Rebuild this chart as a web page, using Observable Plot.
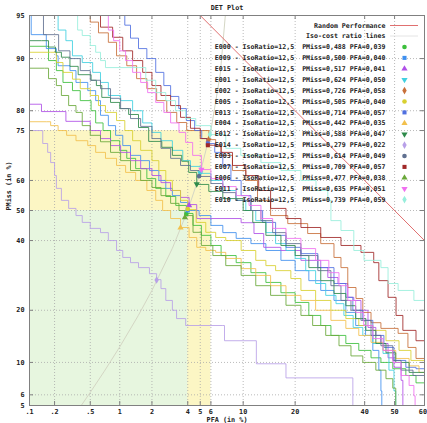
<!DOCTYPE html>
<html><head><meta charset="utf-8">
<script src="https://cdn.jsdelivr.net/npm/d3@7"></script>
<script src="https://cdn.jsdelivr.net/npm/@observablehq/plot@0.6"></script>
<style>body{margin:0;background:#fff}</style>
</head><body><div id="chart"></div>
<script>
// ---------- data (percent) ----------
const systems = ["E000","E009","E015","E001","E002","E005","E013","E004","E012","E014","E003","E007","E006","E011","E010"];
const minPMiss = [0.488,0.500,0.517,0.624,0.726,0.505,0.714,0.442,0.588,0.279,0.614,0.709,0.477,0.635,0.739];
const minPFA   = [0.039,0.040,0.041,0.050,0.058,0.040,0.057,0.035,0.047,0.022,0.049,0.057,0.038,0.051,0.059];
const isoRatioLabel = "12,5";

const pfa_E000 = [0.1,0.16,0.17,0.21,0.25,0.32,0.39,0.51,0.57,0.68,0.81,1.0,1.17,1.42,1.8,2.16,2.64,3.2,3.9,4.4,5.1,6.0,7.1,9.0,11.2,13.8,16.8,20,23.4,26.6,29.5,34.0,38.1,42.1,45.4,49.4,53.8,57.2,60];
const pmiss_E000 = [91.7,91.7,89.7,88.1,86.0,84.4,82.3,80,77.0,75,72.2,69.4,67.0,63.8,60.6,57.4,54.7,51.7,49.0,45.0,41.7,38.4,35.2,33.0,30.0,27.2,24.4,21.9,18.8,16.6,14.6,13.1,11.9,10.7,10.0,9.1,8.2,7.3,6.9];
const pfa_E009 = [0.105,0.105,0.16,0.16,0.21,0.22,0.30,0.35,0.47,0.57,0.64,0.77,0.91,1.07,1.27,1.58,1.9,2.3,2.64,3.0,3.5,4.0,4.9,6.0,7.3,9.0,11.2,13.8,16.8,20,23.4,26.6,30.4,34.0,37.1,40.3,42.7,44.7,45.4,45.7];
const pmiss_E009 = [95,93.1,93.1,91.4,90.4,88.9,88.1,86.0,84.4,82.3,78.9,76.3,73.7,70.8,67.9,66.3,63.2,60,57.4,55.0,52.7,50,48.3,45.0,42.6,40.7,39.0,36.8,33.7,30.6,27.7,25.0,22.4,19.5,16.6,14.6,11.9,8.9,6.4,5];
const pfa_E015 = [0.1,0.14,0.14,0.25,0.27,0.45,0.5,0.64,0.81,1.02,1.27,1.58,2.0,2.4,2.9,3.5,4.1,4.7,9.7,11.7,13.4,16.8,21.4,26.6,28.6,31.6,34.6,36.5,38.8,41.1,43.7,45.4,47.8,49.8,52.2,52.8];
const pmiss_E015 = [81.5,81.5,79.8,79.8,77.4,77.4,75,72.8,70.8,68.8,66.3,63.8,61.6,59.3,56.7,54.4,52.0,47.3,45.9,42.3,37.8,36.8,33.7,31.5,28.6,26.9,23.2,22.4,20,16.2,14.6,13.1,10.7,9.3,7.6,5];
const pfa_E001 = [0.22,0.22,0.27,0.32,0.41,0.53,0.64,0.77,1.02,1.33,1.65,2.0,2.4,3.0,3.65,4.2,5.0,6.0,7.3,9.0,10.4,12.0,13.8,15.7,17.9,20,22.6,25.2,28.0,31.0,33.4,36.3,39.4,42.7,46.1,48.1,49.8,50.4];
const pmiss_E001 = [95,93.6,92.4,90.4,89.4,87.8,86.0,83.4,82.3,80,77.0,74.5,72.2,69.4,66.3,64.5,62.3,60,56.7,53.4,50,46.6,42.6,39.0,36.8,34.3,30.6,26.9,23.7,21.6,18.8,16.2,14.6,13.1,11.4,8.9,6.4,5];
const pfa_E002 = [0.38,0.50,0.61,0.77,0.93,1.17,1.45,1.80,2.2,2.69,3.26,3.92,5.8,6.5,7.1,8.5,10.4,12.3,14.7,18.3,23.1,26.6,30.4,32.5,34.6,37.2,39.4,42.1,45.4,51.2,54.5,57.2,60];
const pmiss_E002 = [95,94.4,93.3,92.2,90.4,88.9,86.7,84.8,82.3,79.6,77.1,75,72.5,70.5,67.9,63.2,60,53.4,48.3,45.6,42.3,39.0,34.6,31.5,25.8,22.9,19.5,17.2,16.0,15.0,12.4,10.6,9.8];
const pfa_E005 = [0.1,0.18,0.21,0.25,0.32,0.39,0.5,0.61,0.72,0.93,1.12,1.33,1.58,2.0,2.3,2.64,3.0,3.5,4.0,4.65,5.5,6.5,7.65,9.7,12.0,13.8,15.7,19.0,21.4,25.2,29.5,34.0,38.1,42.7,47.1,51.5,55.5,60];
const pmiss_E005 = [90.9,90.9,89.4,87.8,86.6,84.8,83.4,81.2,79.6,77.6,75,72.2,69.4,66.3,63.2,60,56.7,53.4,50.3,46.0,42.7,41.0,40,36.8,33.7,32.1,30.6,28.3,25.0,22.4,20,18.1,16.6,15.6,13.6,11.9,10.3,8.4];
const pfa_E013 = [1.0,1.12,1.27,1.51,1.8,2.16,2.54,2.9,3.39,3.9,4.53,5.13,5.68,6.4,7.3,8.3,9.7,11.2,13.2,15.7,17.9,21.4,25.8,30.4,34.0,36.2,39.4,42.7,46.4,49.8,53.8,57.2,60];
const pmiss_E013 = [95,94.1,92.7,91.4,90,87.8,85.4,83.2,80.5,77.6,75,72.8,71.4,68.8,64.8,60,55.0,50,46.0,41.7,37.8,35.8,31.5,26.9,23.2,20,17.7,14.6,12.4,10.3,9.3,9.1,8.6];
const pfa_E004 = [0.1,0.16,0.18,0.22,0.275,0.35,0.47,0.57,0.72,0.93,1.14,1.42,1.8,2.16,2.48,2.9,3.5,4.1,4.7,5.5,6.5,7.65,9.7,12.0,14.7,17.9,21.4,25.2,29.5,34.0,38.1,42.1,46.1,50.4,54.9,58.2,60];
const pmiss_E004 = [77.3,77.3,76.3,75,73.7,72.2,70.8,68.8,67.0,64.8,62.6,60,56.7,53.4,50,47.3,44.3,41.0,37.8,36.8,36.2,34.3,31.2,29.2,26.3,23.7,22.4,20,17.7,16.0,14.6,13.3,11.9,10.6,9.5,8.6,6.2];
const pfa_E012 = [0.1,0.14,0.17,0.205,0.24,0.30,0.37,0.51,0.58,0.66,0.81,1.0,1.22,1.51,1.87,2.44,3.0,3.58,4.07,4.7,5.79,7.3,10.0,11.5,13.8,16.8,20,23.4,26.6,30.4,34.0,37.1,40.4,43.7,47.1,50.4,54.9,60];
const pmiss_E012 = [92.4,92.4,91.6,90.9,90.2,88.8,87.4,86.4,85.4,83.0,81.9,80.5,79.1,75.8,72.0,70.3,67.9,66.1,62.6,58.7,56.4,54.0,50,46.0,41.7,38.4,35.2,31.5,27.7,24.2,21.1,18.1,15.6,13.1,11.5,10.0,8.6,7.8];
const pfa_E014 = [0.1,0.145,0.145,0.166,0.18,0.2,0.21,0.24,0.29,0.35,0.41,0.5,0.64,0.77,0.93,1.07,1.27,1.51,1.9,2.2,2.4,2.64,3.0,3.25,3.85,7.3,7.5,11.7,12.1,17.4,17.9,36.2,36.2];
const pmiss_E014 = [75,75,71.4,68.8,65.7,61.6,57.4,53.4,50.7,48.3,46.0,44.0,42.6,40,36.8,34.6,33.0,31.5,29.7,28.0,25.5,22.4,20,18.1,16.6,16.6,13.6,13.6,9.8,9.8,7.9,7.9,5];
const pfa_E003 = [0.148,0.148,0.223,0.223,0.30,0.39,0.5,0.64,0.81,1.02,1.27,1.58,2.0,2.4,2.9,3.5,4.2,4.9,6.0,7.3,8.95,11.2,12.9,15.1,17.9,21.4,25.8,29.5,32.5,35.6,38.8,42.1,45.4,49.4,52.2,56.2,60];
const pmiss_E003 = [95,93.1,93.1,91.1,90,88.1,86.4,84.8,82.8,80.5,78.1,76.1,72.8,70.0,67.0,64.8,63.2,61.3,59.0,56.0,53.4,50,46.6,42.6,39.0,35.2,30.6,26.3,22.4,20,17.7,14.6,12.7,10.3,8.9,8.2,7.6];
const pfa_E007 = [0.51,0.64,0.85,1.07,1.33,1.65,2.0,2.4,2.9,3.5,4.2,5.0,5.6,7.1,8.5,10.4,12.5,14.7,17.9,21.4,26.6,32.5,38.8,43.0,44.7,47.8,50.5,52.8,57.2,60];
const pmiss_E007 = [95,93.9,92.8,91.1,89.7,87.8,85.4,83.4,81.2,78.4,75.6,72.8,70.9,68.8,64.8,61.6,56.7,50.7,47.3,44.3,41.0,38.4,36.2,33.0,27.7,23.2,18.8,15.6,13.6,12.7];
const pfa_E006 = [0.1,0.152,0.17,0.21,0.24,0.29,0.35,0.41,0.5,0.64,0.81,1.02,1.27,1.58,2.0,2.4,2.9,3.4,3.8,4.4,5.1,6.2,7.65,9.7,12.0,14.7,17.9,21.4,24.4,28.0,31.9,35.6,39.4,43.7,47.1,49.4,50.4];
const pmiss_E006 = [88.5,88.5,86.7,85.4,83.4,81.2,79.6,76.3,73.7,71.9,68.8,66.3,63.2,60,57.7,55.0,52.4,50,48.3,42.7,38.4,35.2,32.1,29.2,26.3,23.7,21.2,18.8,16.6,14.6,12.7,11.0,10.0,8.9,7.8,6.7,5];
const pfa_E011 = [0.77,0.77,0.87,1.0,1.14,1.33,1.58,1.83,2.16,2.54,2.9,3.4,3.85,4.37,5.1,6.0,7.3,9.0,10.9,12.9,15.1,17.9,21.4,25.2,28.9,31.9,34.6,37.1,39.7,42.7,46.1,49.4,52.2,54.9,56.5,56.9];
const pmiss_E011 = [95,93.6,92.4,91.1,89.7,87.8,86.0,84.0,81.9,79.6,77.0,74.5,71.7,67.9,63.5,60.6,58.0,55.0,51.7,47.3,44.0,40.7,37.4,33.7,30.0,26.3,22.4,19.5,16.6,14.0,11.9,10.0,8.2,7.0,5.9,5];
const pfa_E010 = [0.365,0.365,0.41,0.5,0.57,0.64,0.72,1.52,1.76,2.16,2.64,3.19,3.85,4.62,6.0,7.65,9.65,12.9,16.8,21.4,25.3,28.6,29.5,32.5,36.5,39.8,45.4,47.8,51.2,56.5,60];
const pmiss_E010 = [95,93.6,93.0,91.8,90.9,89.7,88.6,88.6,86.4,84.0,82.3,80,78.1,76.3,73.9,70.0,67.9,65.7,63.2,60,56.7,53.4,46.6,43.3,36.8,33.7,31.5,26.9,25.0,22.4,21.6];

const randomPFA = [5, 60];
const randomPMiss = [95, 40];
const isoPFA = [0.4,0.5,0.7,1,1.5,2,3,4,5,6,7,7.6];
const isoPMiss = [5,6.25,8.75,12.5,18.75,25,37.5,50,62.5,75,87.5,95];

const xTickVals = [0.1,0.2,0.5,1,2,4,5,6,10,20,40,50,60];
const xTickLabels = [".1",".2",".5","1","2","4","5","6","10","20","40","50","60"];
const yTickVals = [5,6,10,20,40,50,60,75,80,90,95];
const yTickLabels = ["5","6","10","20","40","50","60","75","80","90","95"];

const regionPFAmax = [6, 4];
const regionPMissMax = [75, 50];

// ---------- styles ----------
const colors = ["#3cbf3c","#3f8fef","#b050e8","#40d0e0","#c8703a","#d8d030","#5070e0","#f2c04c","#2e8a4a","#b8a0e8","#607090","#a02828","#6aa83a","#f070f0","#98eedc"];
const regionFills = ["#fcf6c4","#e7f6df"];

const curves = {
  E000:[pfa_E000,pmiss_E000], E009:[pfa_E009,pmiss_E009], E015:[pfa_E015,pmiss_E015],
  E001:[pfa_E001,pmiss_E001], E002:[pfa_E002,pmiss_E002], E005:[pfa_E005,pmiss_E005],
  E013:[pfa_E013,pmiss_E013], E004:[pfa_E004,pmiss_E004], E012:[pfa_E012,pmiss_E012],
  E014:[pfa_E014,pmiss_E014], E003:[pfa_E003,pmiss_E003], E007:[pfa_E007,pmiss_E007],
  E006:[pfa_E006,pmiss_E006], E011:[pfa_E011,pmiss_E011], E010:[pfa_E010,pmiss_E010]
};

// ---------- probit (normal deviate) ----------
function probit(p){
  const a=[-3.969683028665376e+01,2.209460984245205e+02,-2.759285104469687e+02,1.383577518672690e+02,-3.066479806614716e+01,2.506628277459239e+00];
  const b=[-5.447609879822406e+01,1.615858368580409e+02,-1.556989798598866e+02,6.680131188771972e+01,-1.328068155288572e+01];
  const c=[-7.784894002430293e-03,-3.223964580411365e-01,-2.400758277161838e+00,-2.549732539343734e+00,4.374664141464968e+00,2.938163982698783e+00];
  const d=[7.784695709041462e-03,3.224671290700398e-01,2.445134137142996e+00,3.754408661907416e+00];
  const pl=0.02425, ph=1-pl; let q,r;
  if(p<pl){q=Math.sqrt(-2*Math.log(p));return (((((c[0]*q+c[1])*q+c[2])*q+c[3])*q+c[4])*q+c[5])/((((d[0]*q+d[1])*q+d[2])*q+d[3])*q+1);}
  if(p>ph){q=Math.sqrt(-2*Math.log(1-p));return -(((((c[0]*q+c[1])*q+c[2])*q+c[3])*q+c[4])*q+c[5])/((((d[0]*q+d[1])*q+d[2])*q+d[3])*q+1);}
  q=p-0.5;r=q*q;return (((((a[0]*r+a[1])*r+a[2])*r+a[3])*r+a[4])*r+a[5])*q/(((((b[0]*r+b[1])*r+b[2])*r+b[3])*r+b[4])*r+1);
}
const Z = pct => probit(pct/100);

const W = 427, H = 423, mL = 29, mR = 3, mT = 15, mB = 18;
const xDomain = [Z(0.1), Z(60)];
const yDomain = [Z(5), Z(95)];
// helpers mirroring the plot's linear scales (for legend / tick placement)
const px = d3.scaleLinear(xDomain, [mL, W - mR]);
const py = d3.scaleLinear(yDomain, [H - mB, mT]);

const rows = [];
systems.forEach((s, i) => {
  const [fa, mi] = curves[s];
  fa.forEach((v, j) => rows.push({sys: s, color: colors[i], x: Z(v), y: Z(mi[j])}));
});

const triangleDown = {draw(ctx, size){const s3=Math.sqrt(3);const y=-Math.sqrt(size/(s3*3));ctx.moveTo(0,-y*2);ctx.lineTo(-s3*y,y);ctx.lineTo(s3*y,y);ctx.closePath();}};
const symbolCycle = ["circle","square","triangle",triangleDown,"diamond"];

const font = "DejaVu Sans Mono";
const txt = {fontFamily: font, fontSize: 6.6, fontWeight: "bold", fill: "#222"};
const fmt3 = v => v.toFixed(3).replace(".", ",");
const lastX = xTickVals.length - 1;

const marks = [];
// shaded regions
regionPFAmax.forEach((m, i) => marks.push(Plot.rect([0], {x1: Z(0.1), x2: Z(m), y1: Z(5), y2: Z(regionPMissMax[i]), fill: regionFills[i]})));
// grid
marks.push(Plot.ruleX(xTickVals, {x: d => Z(d), stroke: "#a8a8a8", strokeDasharray: "1,2", strokeWidth: 0.8}));
marks.push(Plot.ruleY(yTickVals, {y: d => Z(d), stroke: "#a8a8a8", strokeDasharray: "1,2", strokeWidth: 0.8}));
// iso-ratio line
marks.push(Plot.line(isoPFA.map((v,i)=>({x:Z(v), y:Z(isoPMiss[i])})), {x:"x", y:"y", stroke:"#d4d6c4", strokeWidth:1, clip:true}));
// random performance
marks.push(Plot.line(randomPFA.map((v,i)=>({x:Z(v), y:Z(randomPMiss[i])})), {x:"x", y:"y", stroke:"#e07070", strokeWidth:1, clip:true}));
// DET curves
marks.push(Plot.line(rows, {x:"x", y:"y", z:"sys", stroke:"color", curve:"step-after", strokeWidth:1, strokeOpacity:0.85, clip:true}));
// min-cost markers
systems.forEach((s, i) => marks.push(Plot.dot([0], {x: Z(minPFA[i]*100), y: Z(minPMiss[i]*100), symbol: symbolCycle[i % 5], fill: colors[i], stroke: "none", r: 2.3})));
// frame
marks.push(Plot.frame({stroke: "#808080"}));
// inward ticks, all four sides
marks.push(Plot.ruleX(xTickVals, {x: d => Z(d), y1: yDomain[0], y2: py.invert(H - mB - 4), stroke: "#808080"}));
marks.push(Plot.ruleX(xTickVals, {x: d => Z(d), y1: py.invert(mT + 4), y2: yDomain[1], stroke: "#808080"}));
marks.push(Plot.ruleY(yTickVals, {y: d => Z(d), x1: xDomain[0], x2: px.invert(mL + 4), stroke: "#808080"}));
marks.push(Plot.ruleY(yTickVals, {y: d => Z(d), x1: px.invert(W - mR - 4), x2: xDomain[1], stroke: "#808080"}));
// tick labels
marks.push(Plot.text(xTickVals.slice(0, lastX), {x: d => Z(d), frameAnchor: "bottom", dy: 8, text: (d, i) => xTickLabels[i], ...txt, fontSize: 6.8}));
marks.push(Plot.text([xTickVals[lastX]], {x: d => Z(d), frameAnchor: "bottom", dy: 8, dx: 2.5, textAnchor: "end", text: () => xTickLabels[lastX], ...txt, fontSize: 6.8}));
marks.push(Plot.text(yTickVals, {y: d => Z(d), frameAnchor: "left", dx: -5, textAnchor: "end", text: (d, i) => yTickLabels[i], ...txt, fontSize: 6.8}));
// titles
marks.push(Plot.text(["DET Plot"], {frameAnchor: "top", dy: -10, ...txt, fontSize: 6.8}));
marks.push(Plot.text(["PFA (in %)"], {frameAnchor: "bottom", dy: 16, ...txt, fontSize: 6.8}));
marks.push(Plot.text(["PMiss (in %)"], {frameAnchor: "left", dx: -21, rotate: -90, ...txt, fontSize: 6.8}));
// legend
const legTextX = px.invert(385), legSymX = px.invert(404);
marks.push(Plot.text(["Random Performance"], {x: legTextX, y: py.invert(25), textAnchor: "end", ...txt}));
marks.push(Plot.ruleY([py.invert(25)], {x1: px.invert(390), x2: px.invert(418), stroke: "#e07070"}));
marks.push(Plot.text(["Iso-cost ratio lines"], {x: legTextX, y: py.invert(35.5), textAnchor: "end", ...txt}));
marks.push(Plot.ruleY([py.invert(35.5)], {x1: px.invert(390), x2: px.invert(418), stroke: "#e4e4e4"}));
systems.forEach((s, i) => {
  const yy = py.invert(46.5 + i * 10.9);
  marks.push(Plot.text([`${s} - IsoRatio=${isoRatioLabel}  PMiss=${fmt3(minPMiss[i])} PFA=${fmt3(minPFA[i])}`], {x: legTextX, y: yy, textAnchor: "end", ...txt}));
  marks.push(Plot.dot([0], {x: legSymX, y: yy, symbol: symbolCycle[i % 5], fill: colors[i], stroke: "none", r: 2.3}));
});

const chart = Plot.plot({
  width: W, height: H,
  marginLeft: mL, marginRight: mR, marginTop: mT, marginBottom: mB,
  x: {type: "linear", domain: xDomain, axis: null},
  y: {type: "linear", domain: yDomain, axis: null},
  color: {type: "identity"},
  style: {background: "#fff", fontFamily: font, overflow: "visible"},
  marks
});
document.getElementById("chart").appendChild(chart);
</script>
</body></html>
